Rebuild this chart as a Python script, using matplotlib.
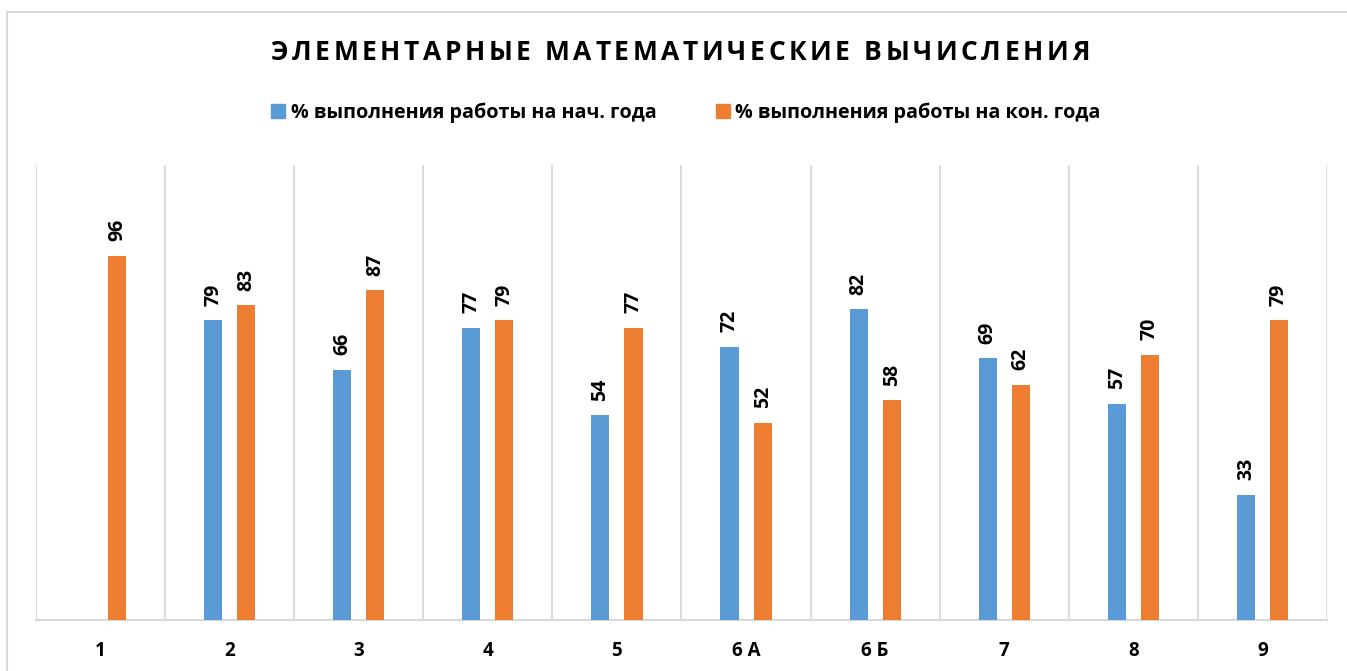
import matplotlib
matplotlib.use("Agg")
import matplotlib.pyplot as plt
from matplotlib.patches import Rectangle
import numpy as np

categories = ["1", "2", "3", "4", "5", "6 А", "6 Б", "7", "8", "9"]
start_values = [None, 79, 66, 77, 54, 72, 82, 69, 57, 33]
end_values = [96, 83, 87, 79, 77, 52, 58, 62, 70, 79]
series_names = ["% выполнения работы на нач. года", "% выполнения работы на кон. года"]
title = "ЭЛЕМЕНТАРНЫЕ МАТЕМАТИЧЕСКИЕ ВЫЧИСЛЕНИЯ"

BLUE = "#5B9BD5"
ORANGE = "#ED7D31"
GRID = "#D9D9D9"
FONT = ["Open Sans", "DejaVu Sans"]
plt.rcParams["font.family"] = FONT

W, H = 1347, 671
fig = plt.figure(figsize=(W / 100, H / 100), dpi=100)

# outer border
fig.patches.append(Rectangle((7 / W, -0.1), 1.2, (H - 12) / H + 0.1, transform=fig.transFigure,
                             fill=False, edgecolor=GRID, linewidth=1.5))

left, right, top, bottom = 36, 1327, 165, 620
ax = fig.add_axes([left / W, 1 - bottom / H, (right - left) / W, (bottom - top) / H])
ax.set_xlim(-0.5, len(categories) - 0.5)
ax.set_ylim(0, 120)

x = np.arange(len(categories))
bw = 0.14
off = 0.128
sv = [np.nan if v is None else v for v in start_values]
ax.bar(x - off, sv, bw, color=BLUE, label=series_names[0], zorder=3)
ax.bar(x + off, end_values, bw, color=ORANGE, label=series_names[1], zorder=3)

LBL = 14
for xi, v in zip(x, start_values):
    if v is not None:
        ax.annotate(str(v), (xi - off, v), xytext=(0, 10.5), textcoords="offset points",
                    rotation=90, ha="center", va="bottom", fontsize=LBL, fontweight="bold")
for xi, v in zip(x, end_values):
    ax.annotate(str(v), (xi + off, v), xytext=(0, 10.5), textcoords="offset points",
                rotation=90, ha="center", va="bottom", fontsize=LBL, fontweight="bold")

# category separators
for b in np.arange(-0.5, len(categories), 1.0):
    ax.axvline(b, color=GRID, linewidth=1.3, zorder=1)

for s in ["top", "left", "right"]:
    ax.spines[s].set_visible(False)
ax.spines["bottom"].set_color(GRID)
ax.spines["bottom"].set_linewidth(1.5)
ax.set_yticks([])
ax.set_xticks(x)
ax.set_xticklabels(categories, fontsize=13.5, fontweight="bold")
ax.tick_params(axis="x", length=0, pad=15)

# legend
handles = [Rectangle((0, 0), 1, 1, color=BLUE), Rectangle((0, 0), 1, 1, color=ORANGE)]
fig.legend(handles, series_names, loc="center", bbox_to_anchor=(686 / W, 1 - 113 / H),
           ncol=2, frameon=False, prop={"family": FONT, "weight": "bold", "size": 14.2},
           handlelength=0.7, handleheight=0.7, handletextpad=0.3, columnspacing=3.0)

# letter-spaced title
fig.canvas.draw()
renderer = fig.canvas.get_renderer()
tsize = 19
spacing = 3.6  # px extra per char
widths = []
for ch in title:
    t = fig.text(0, 0, ch if ch != " " else "Э", fontsize=tsize, fontweight="bold")
    w = t.get_window_extent(renderer).width
    if ch == " ":
        w *= 0.4
    widths.append(w)
    t.remove()
total = sum(widths) + spacing * (len(title) - 1)
xc = 680 - total / 2
for ch, w in zip(title, widths):
    if ch != " ":
        fig.text(xc / W, 1 - 52 / H, ch, fontsize=tsize, fontweight="bold", va="center", ha="left")
    xc += w + spacing

fig.savefig("out.png", dpi=100)
